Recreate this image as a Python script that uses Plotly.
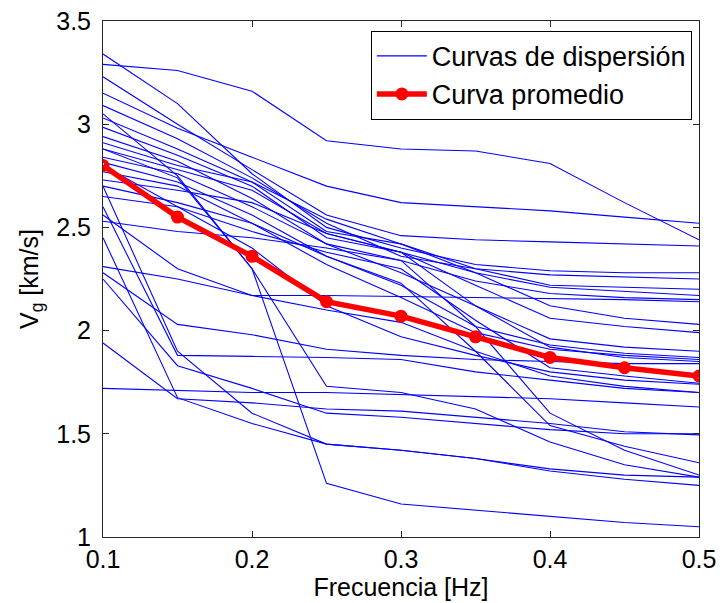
import plotly.graph_objects as go

# Frequencies (Hz) at which every group-velocity curve is sampled
freq = [0.10, 0.15, 0.20, 0.25, 0.30, 0.35, 0.40, 0.45, 0.50]

# Individual dispersion curves: group velocity Vg (km/s) at each frequency
curve_01 = [3.29, 3.26, 3.16, 2.92, 2.88, 2.87, 2.81, 2.62, 2.44]
curve_02 = [3.15, 2.98, 2.84, 2.70, 2.62, 2.60, 2.58, 2.55, 2.52]
curve_03 = [3.23, 3.00, 2.78, 2.56, 2.46, 2.44, 2.43, 2.42, 2.41]
curve_04 = [3.34, 3.10, 2.76, 2.50, 2.40, 2.32, 2.29, 2.28, 2.28]
curve_05 = [3.09, 2.93, 2.74, 2.52, 2.36, 2.30, 2.27, 2.26, 2.25]
curve_06 = [3.03, 2.88, 2.72, 2.48, 2.42, 2.30, 2.22, 2.21, 2.20]
curve_07 = [2.985, 2.85, 2.70, 2.45, 2.38, 2.28, 2.21, 2.19, 2.17]
curve_08 = [2.94, 2.82, 2.64, 2.42, 2.34, 2.24, 2.18, 2.16, 2.15]
curve_09 = [2.91, 2.80, 2.72, 2.54, 2.42, 2.28, 2.12, 2.06, 2.03]
curve_10 = [2.88, 2.78, 2.68, 2.47, 2.38, 2.22, 2.06, 2.02, 1.99]
curve_11 = [2.84, 2.76, 2.60, 2.42, 2.28, 2.12, 1.96, 1.92, 1.90]
curve_12 = [2.815, 2.72, 2.56, 2.36, 2.22, 2.02, 1.93, 1.89, 1.87]
curve_13 = [2.77, 2.70, 2.52, 2.32, 2.16, 1.99, 1.91, 1.88, 1.86]
curve_14 = [2.73, 2.68, 2.62, 2.47, 2.38, 2.12, 1.92, 1.87, 1.85]
curve_15 = [2.70, 2.62, 2.52, 2.36, 2.23, 1.90, 1.54, 1.44, 1.36]
curve_16 = [2.65, 2.60, 2.48, 2.38, 2.30, 2.05, 1.82, 1.78, 1.745]
curve_17 = [2.56, 2.30, 2.17, 2.10, 2.04, 1.90, 1.78, 1.73, 1.70]
curve_18 = [2.53, 2.48, 2.45, 2.40, 2.34, 2.02, 1.60, 1.42, 1.30]
curve_19 = [3.05, 2.75, 2.30, 1.26, 1.16, 1.13, 1.10, 1.07, 1.05]
curve_20 = [2.31, 2.25, 2.17, 2.17, 2.165, 2.16, 2.155, 2.15, 2.14]
curve_21 = [2.28, 2.03, 1.98, 1.91, 1.88, 1.86, 1.85, 1.84, 1.84]
curve_22 = [2.25, 1.83, 1.72, 1.60, 1.58, 1.55, 1.52, 1.50, 1.50]
curve_23 = [1.94, 1.67, 1.65, 1.62, 1.61, 1.58, 1.55, 1.51, 1.495]
curve_24 = [1.72, 1.71, 1.70, 1.70, 1.69, 1.68, 1.67, 1.65, 1.63]
curve_25 = [2.60, 1.88, 1.875, 1.87, 1.86, 1.80, 1.76, 1.72, 1.70]
curve_26 = [2.45, 1.675, 1.55, 1.45, 1.42, 1.38, 1.33, 1.30, 1.29]
curve_27 = [2.88, 2.74, 2.30, 1.73, 1.70, 1.62, 1.46, 1.35, 1.29]
curve_28 = [2.80, 2.60, 2.40, 2.12, 1.97, 1.88, 1.80, 1.76, 1.74]
curve_29 = [2.70, 1.90, 1.60, 1.45, 1.42, 1.38, 1.32, 1.28, 1.25]

dispersion_curves = [
    curve_01, curve_02, curve_03, curve_04, curve_05, curve_06, curve_07,
    curve_08, curve_09, curve_10, curve_11, curve_12, curve_13, curve_14,
    curve_15, curve_16, curve_17, curve_18, curve_19, curve_20, curve_21,
    curve_22, curve_23, curve_24, curve_25, curve_26, curve_27, curve_28,
    curve_29,
]

# Average dispersion curve
mean_curve = [2.80, 2.55, 2.36, 2.14, 2.07, 1.97, 1.87, 1.82, 1.78]

x_ticks = [0.1, 0.2, 0.3, 0.4, 0.5]
y_ticks = [1, 1.5, 2, 2.5, 3, 3.5]

FONT = "Arial, Liberation Sans, sans-serif"
AXIS_COLOR = "#262626"

fig = go.Figure()

for i, vg in enumerate(dispersion_curves):
    fig.add_trace(go.Scatter(
        x=freq, y=vg, mode="lines",
        line=dict(color="#0000FF", width=1.1),
        name="Curvas de dispersión",
        showlegend=(i == 0),
        hoverinfo="skip",
    ))

fig.add_trace(go.Scatter(
    x=freq, y=mean_curve, mode="lines+markers",
    line=dict(color="#FF0000", width=5.5),
    marker=dict(symbol="circle-open", size=9, color="#FF0000",
                line=dict(color="#FF0000", width=4)),
    name="Curva promedio",
))

axis_common = dict(
    showgrid=False, zeroline=False,
    showline=True, linecolor=AXIS_COLOR, linewidth=1, mirror="ticks",
    ticks="inside", ticklen=6, tickcolor=AXIS_COLOR, tickwidth=1,
    tickfont=dict(family=FONT, size=25, color="#000000"),
)

fig.update_layout(
    width=720, height=603,
    margin=dict(l=103, r=21, t=21, b=66),
    paper_bgcolor="white", plot_bgcolor="white",
    font=dict(family=FONT, color="#000000"),
    xaxis=dict(
        range=[0.1, 0.5], tickvals=x_ticks,
        ticktext=[f"{v:g}" for v in x_ticks],
        title=dict(text="Frecuencia [Hz]", font=dict(family=FONT, size=25),
                   standoff=2),
        ticklabelstandoff=0,
        automargin=False,
        **axis_common,
    ),
    yaxis=dict(
        range=[1, 3.5], tickvals=y_ticks,
        ticktext=[f"{v:g}" for v in y_ticks],
        title=dict(text="V<sub>g</sub> [km/s]", font=dict(family=FONT, size=25),
                   standoff=10),
        ticklabelstandoff=6,
        automargin=False,
        **axis_common,
    ),
    legend=dict(
        x=0.988, y=0.981, xanchor="right", yanchor="top",
        bgcolor="white", bordercolor="#000000", borderwidth=1,
        font=dict(family=FONT, size=27, color="#000000"),
        tracegroupgap=0, itemwidth=50,
    ),
    showlegend=True,
)

fig.write_html("out.html")
